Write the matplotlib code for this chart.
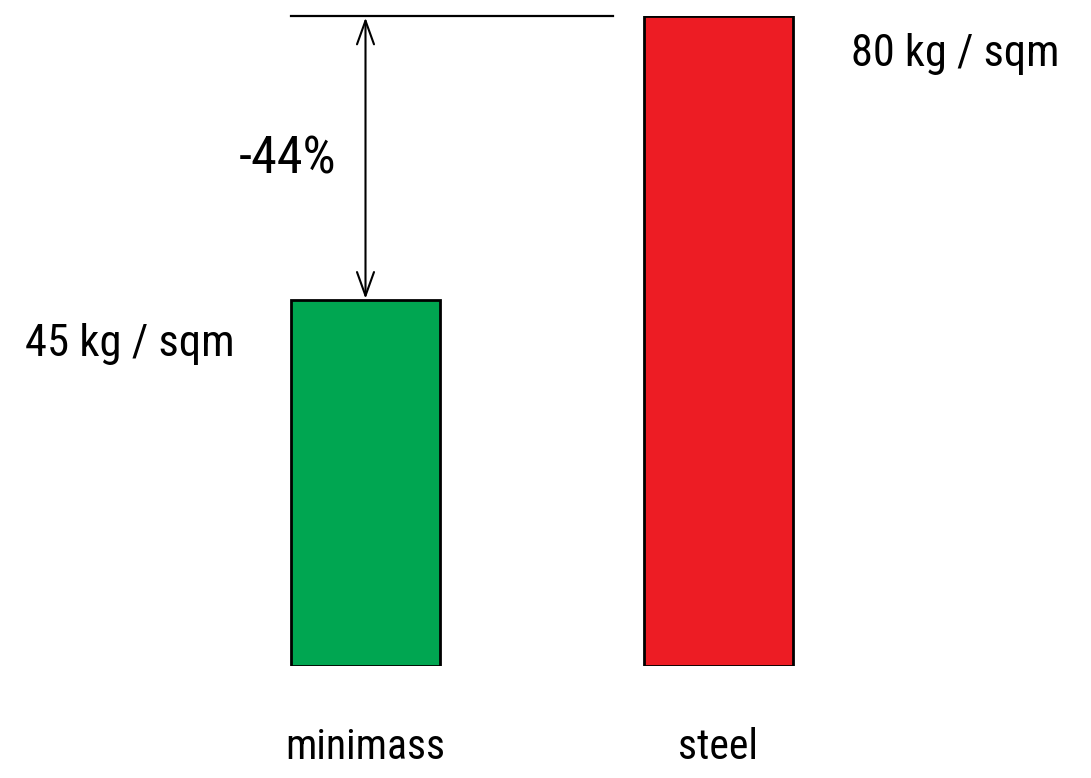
import matplotlib
matplotlib.use("Agg")
import matplotlib.pyplot as plt
from matplotlib import font_manager

categories = ["minimass", "steel"]
values = [45, 80]
colors = ["#00A651", "#ED1C24"]
value_labels = ["45 kg / sqm", "80 kg / sqm"]
pct = round((values[0] - values[1]) / values[1] * 100)
pct_label = f"{pct}%"

names = {f.name for f in font_manager.fontManager.ttflist}
fam = "DejaVu Sans"
for cand in ["Liberation Sans Narrow", "Roboto Condensed", "Open Sans Condensed", "DejaVu Sans Condensed"]:
    if cand in names:
        fam = cand
        break
plt.rcParams["font.family"] = [fam, "DejaVu Sans"]
if fam == "DejaVu Sans":
    plt.rcParams["font.stretch"] = "condensed"

W, H = 1091, 778
fig = plt.figure(figsize=(W / 100, H / 100), dpi=100)
ax = fig.add_axes([0, (H - 666) / H, 1, 650 / H])
x = list(range(len(categories)))
ax.bar(x, values, width=0.422, color=colors, edgecolor="black", linewidth=2.0, zorder=2)
ax.set_xlim(-365.5 / 353, (W - 365.5) / 353)
ax.set_ylim(0, values[1])

# reference line and arrow
ax.plot([-0.212, 0.701], [values[1], values[1]], color="black", lw=1.6, clip_on=False, zorder=3)
ax.annotate("", xy=(0, values[0] + 0.2), xytext=(0, values[1] - 0.2),
            arrowprops=dict(arrowstyle="<->,head_length=0.5,head_width=0.18", color="black", lw=1.5,
                            mutation_scale=34, shrinkA=0, shrinkB=0))

texts = []
texts.append((ax.text(-0.083, 62.3, pct_label, ha="right", va="center", fontsize=34), 98))
texts.append((ax.text(-0.37, 39.6, value_labels[0], ha="right", va="center", fontsize=34), 210))
texts.append((ax.text(1.375, 75.3, value_labels[1], ha="left", va="center", fontsize=34), 209))

ax.set_xticks(x)
ax.set_xticklabels(categories, fontsize=34)
ax.tick_params(axis="x", length=0, pad=44)
ax.set_yticks([])
for s in ax.spines.values():
    s.set_visible(False)

fig.canvas.draw()
r = fig.canvas.get_renderer()
for t, target in texts:
    bb = t.get_window_extent(r)
    t.set_fontsize(34 * target / bb.width)
ticklabs = ax.get_xticklabels()
bb = ticklabs[0].get_window_extent(r)
cat_fs = 34 * 160 / bb.width
ax.set_xticklabels(categories, fontsize=cat_fs)

fig.savefig("out.png", dpi=100)
